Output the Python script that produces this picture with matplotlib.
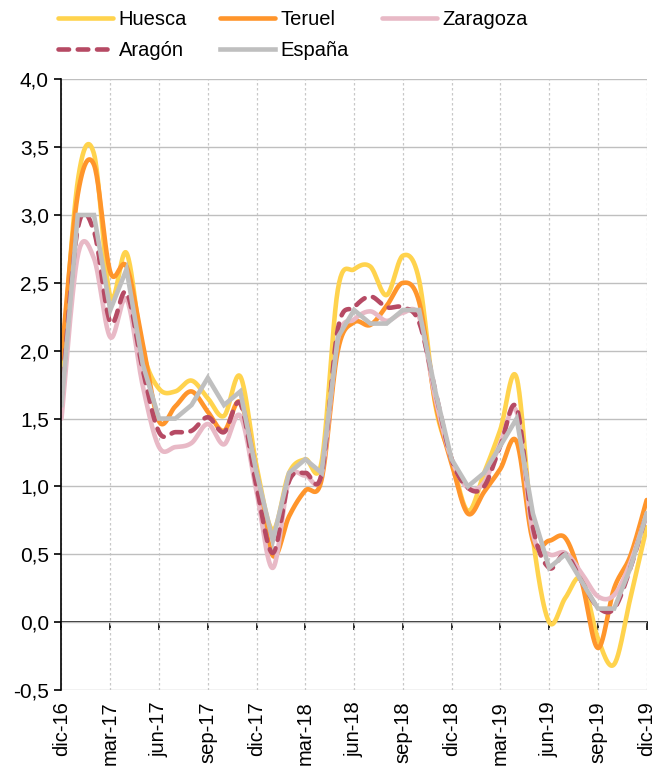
import numpy as np
import matplotlib
matplotlib.use("Agg")
import matplotlib.pyplot as plt
from matplotlib.ticker import FuncFormatter

plt.rcParams['font.family'] = ['Liberation Sans', 'DejaVu Sans']

# monthly series, dic-16 .. dic-19
months = ['dic-16', 'ene-17', 'feb-17', 'mar-17', 'abr-17', 'may-17', 'jun-17', 'jul-17',
          'ago-17', 'sep-17', 'oct-17', 'nov-17', 'dic-17', 'ene-18', 'feb-18', 'mar-18',
          'abr-18', 'may-18', 'jun-18', 'jul-18', 'ago-18', 'sep-18', 'oct-18', 'nov-18',
          'dic-18', 'ene-19', 'feb-19', 'mar-19', 'abr-19', 'may-19', 'jun-19', 'jul-19',
          'ago-19', 'sep-19', 'oct-19', 'nov-19', 'dic-19']
tick_labels = ['dic-16', 'mar-17', 'jun-17', 'sep-17', 'dic-17', 'mar-18', 'jun-18',
               'sep-18', 'dic-18', 'mar-19', 'jun-19', 'sep-19', 'dic-19']

huesca = [1.8, 3.25, 3.45, 2.4, 2.72, 2.0, 1.72, 1.7, 1.78, 1.65, 1.52, 1.81, 1.15,
          0.68, 1.1, 1.2, 1.18, 2.45, 2.6, 2.62, 2.41, 2.7, 2.52, 1.6, 1.2,
          0.82, 1.1, 1.42, 1.8, 0.62, 0.0, 0.18, 0.32, -0.12, -0.31, 0.18, 0.7]
teruel = [1.95, 3.15, 3.37, 2.58, 2.62, 2.05, 1.48, 1.59, 1.7, 1.55, 1.41, 1.62, 1.1,
          0.49, 0.78, 0.97, 1.05, 2.0, 2.21, 2.19, 2.33, 2.5, 2.36, 1.62, 1.17,
          0.8, 0.96, 1.13, 1.33, 0.6, 0.6, 0.62, 0.3, -0.19, 0.25, 0.49, 0.9]
zaragoza = [1.5, 2.7, 2.68, 2.1, 2.38, 1.74, 1.29, 1.29, 1.32, 1.46, 1.31, 1.52, 0.96,
            0.4, 1.05, 1.08, 1.09, 2.08, 2.23, 2.29, 2.22, 2.28, 2.25, 1.65, 1.2,
            0.99, 1.03, 1.32, 1.55, 0.65, 0.5, 0.51, 0.36, 0.19, 0.2, 0.44, 0.8]
aragon = [1.65, 2.9, 2.88, 2.21, 2.43, 1.86, 1.4, 1.4, 1.41, 1.51, 1.4, 1.61, 1.0,
          0.51, 1.04, 1.1, 1.09, 2.16, 2.32, 2.4, 2.32, 2.32, 2.21, 1.7, 1.2,
          0.99, 1.0, 1.3, 1.58, 0.7, 0.4, 0.5, 0.3, 0.11, 0.1, 0.4, 0.8]
espana = [1.6, 3.0, 3.0, 2.3, 2.6, 1.9, 1.5, 1.5, 1.6, 1.8, 1.6, 1.7, 1.1,
          0.6, 1.1, 1.2, 1.1, 2.1, 2.3, 2.2, 2.2, 2.3, 2.3, 1.7, 1.2,
          1.0, 1.1, 1.3, 1.5, 0.8, 0.4, 0.5, 0.3, 0.1, 0.1, 0.4, 0.8]


def smooth(x, y, n=24):
    # Excel style smoothed line (Catmull-Rom as cubic bezier)
    x = np.asarray(x, float)
    y = np.asarray(y, float)
    px = np.concatenate([[x[0]], x, [x[-1]]])
    py = np.concatenate([[y[0]], y, [y[-1]]])
    t = np.linspace(0, 1, n, endpoint=False)[:, None]
    xs, ys = [], []
    for i in range(len(x) - 1):
        p0 = np.array([px[i + 1], py[i + 1]])
        p3 = np.array([px[i + 2], py[i + 2]])
        c1 = p0 + (p3 - np.array([px[i], py[i]])) / 6
        c2 = p3 - (np.array([px[i + 3], py[i + 3]]) - p0) / 6
        pts = ((1 - t) ** 3) * p0 + 3 * ((1 - t) ** 2) * t * c1 + 3 * (1 - t) * t ** 2 * c2 + t ** 3 * p3
        xs.append(pts[:, 0])
        ys.append(pts[:, 1])
    xs.append([x[-1]])
    ys.append([y[-1]])
    return np.concatenate(xs), np.concatenate(ys)


x = np.arange(len(months))

fig = plt.figure(figsize=(6.57, 7.69), dpi=100)
ax = fig.add_axes([0.0936, 0.1027, 0.8907, 0.7942])

lw = 3.3
sx, sy = smooth(x, huesca)
ax.plot(sx, sy, color='#FFD34D', lw=lw, label='Huesca', solid_capstyle='round')
sx, sy = smooth(x, teruel)
ax.plot(sx, sy, color='#FF952B', lw=lw, label='Teruel', solid_capstyle='round')
sx, sy = smooth(x, zaragoza)
ax.plot(sx, sy, color='#E8B9C6', lw=lw, label='Zaragoza', solid_capstyle='round')
sx, sy = smooth(x, aragon)
ax.plot(sx, sy, color='#B64A64', lw=lw, label='Aragón', dashes=(2.3, 1.9),
        dash_capstyle='round')
ax.plot(x, espana, color='#BFBFBF', lw=lw, label='España', solid_joinstyle='miter')

ax.set_ylim(-0.5, 4.0)
ax.set_xlim(0, 36)
ax.set_yticks(np.arange(-0.5, 4.01, 0.5))
ax.yaxis.set_major_formatter(FuncFormatter(lambda v, p: f"{v:.1f}".replace('.', ',')))
ax.set_xticks(x[::3])
ax.set_xticklabels(tick_labels, rotation=90)

ax.grid(axis='y', color='#BFBFBF', lw=1.0)
ax.grid(axis='x', color='#C8C8C8', lw=0.9, linestyle=(0, (2, 2)))
ax.set_axisbelow(True)
for s in ['top', 'right', 'bottom']:
    ax.spines[s].set_visible(False)
ax.spines['left'].set_linewidth(1.2)
ax.tick_params(axis='y', labelsize=15, length=5, width=1.2, pad=4)
ax.tick_params(axis='x', labelsize=14.5, length=0, pad=8)

# axis line with ticks at zero
sec = ax.secondary_xaxis(0.5 / 4.5)
sec.set_xticks(x[::3])
sec.set_xticklabels([])
sec.spines['bottom'].set_linewidth(1.2)
sec.tick_params(length=6, width=1.2, direction='out')

handles, labels = ax.get_legend_handles_labels()
order = [0, 3, 1, 4, 2]
fig.legend([handles[i] for i in order], [labels[i] for i in order], ncol=3,
           loc='upper left', bbox_to_anchor=(0.061, 1.011), frameon=False,
           fontsize=14.5, handlelength=2.7, handletextpad=0.3, columnspacing=1.65,
           labelspacing=0.6)

fig.savefig('out.png', dpi=100)
